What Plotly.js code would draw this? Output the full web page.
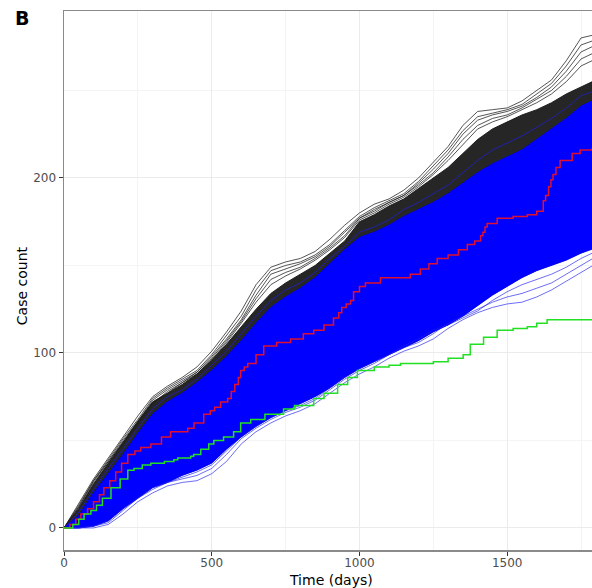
<!DOCTYPE html>
<html>
<head>
<meta charset="utf-8">
<script src="https://cdn.plot.ly/plotly-3.0.1.min.js"></script>
<style>html,body{margin:0;padding:0;background:#fff;}#chart{width:592px;height:588px;}</style>
</head>
<body>
<div id="chart"></div>
<script>
// Time grid (days) for envelopes and individual simulated trajectories
var timeGrid = [0,50,100,150,200,250,300,350,400,450,500,550,600,650,700,750,800,850,900,950,1000,1050,1100,1150,1200,1250,1300,1350,1400,1450,1500,1550,1600,1650,1700,1750,1800];

// Dense band of "black" simulations: upper edge
var blackBandTop = [0,11,25,37,49,61,72,77,82,88,96,105,115,125,134,140,145,150,157,164,175,179,184,188,194,200,206,214,222,228,232,236,239,243,248,252,256];
// Outer black simulations
var black1 = [0,14,28,40,52,64,75,81,86,92,101,112,124,139,149,152,154,158,165,173,180,185,188,193,200,209,218,230,238,239,240,244,250,256,267,280,282];
var black2 = [0,12,26,38,50,61,73,79,84,89,98,108,119,133,145,148,151,155,161,169,177,182,186,190,197,205,214,225,233,236,238,241,246,252,261,272,276];
var black3 = [0,11,25,37,48,59,71,78,83,88,96,106,117,129,139,144,148,153,159,166,176,180,185,189,195,202,210,219,228,232,235,239,243,248,255,264,268];
var black4 = [0,13,27,39,51,62,74,80,85,90,99,110,121,136,147,150,152,156,162,170,178,183,187,191,198,207,216,227,235,237,239,242,248,254,264,276,279];
var black5 = [0,12,27,38,49,60,72,77,83,89,97,107,118,131,142,146,149,154,160,167,177,181,186,190,196,203,212,222,230,234,236,240,245,250,258,268,272];

// Dense band of "blue" simulations: lower and upper edges
var blueBandBottom = [0,0,1,4,11,17,23,26,30,33,37,45,52,58,63,67,71,75,80,86,91,95,99,103,107,112,116,121,127,133,138,143,147,150,153,157,160];
var blueBandTop = [0,7,20,31,42,54,65,72,77,83,90,98,107,117,126,132,137,143,151,159,166,169,173,178,182,186,191,197,203,208,212,216,222,228,234,241,245];
// Individual blue simulations at the edges
var blueLow1 = [0,0,0,2,8,15,20,24,26,27,31,38,48,55,60,64,67,71,77,83,88,92,97,101,104,108,114,119,123,126,128,129,132,136,141,146,151];
var blueLow2 = [0,0,1,3,10,17,22,26,28,30,34,42,51,57,62,66,69,73,79,85,90,94,99,103,106,111,117,121,125,129,132,134,137,140,145,150,155];
var blueLow3 = [0,0,1,4,11,17,23,26,29,32,36,44,52,58,63,67,70,74,80,86,91,95,99,104,108,113,116,120,124,130,135,139,142,145,149,154,158];
var blueHigh1 = [0,9,22,34,45,57,68,75,79,85,93,101,111,121,130,136,140,146,154,161,169,172,176,182,186,191,196,203,210,216,220,224,229,234,240,247,250];

// Red trajectory (step function)
var redDays = [0,20,40,57,80,100,120,135,155,175,195,216,240,260,294,330,361,419,440,473,495,510,530,554,566,578,590,598,610,622,650,676,720,767,810,845,880,912,930,940,955,970,980,1000,1020,1071,1139,1172,1206,1235,1263,1300,1335,1365,1390,1410,1418,1425,1432,1466,1520,1568,1600,1622,1630,1640,1648,1655,1665,1679,1720,1747,1787];
var redCases = [0,2,5,8,11,15,19,23,27,32,37,42,44,46,48,52,55,57,60,65,67,69,72,74,78,82,86,90,92,94,99,104,106,108,111,113,116,120,123,126,128,130,135,138,140,143,143,145,148,151,154,156,159,162,164,167,169,172,174,177,178,179,181,187,190,195,199,202,206,210,214,216,217];

// Green trajectory (step function)
var greenDays = [0,7,30,50,68,91,110,130,159,190,216,237,265,294,340,372,385,429,439,463,490,507,540,574,598,632,680,743,780,845,880,926,960,993,1050,1100,1139,1200,1250,1300,1351,1375,1420,1466,1520,1568,1600,1635,1787];
var greenCases = [0,0,2,5,8,10,13,17,23,28,33,34,36,37,38,39,40,41,42,45,48,50,52,55,60,62,65,68,70,74,77,82,86,90,92,93,94,94,95,97,99,105,109,113,114,115,117,119,119];

var traces = [];
function line(y, color, width, shape) {
  return {x: timeGrid, y: y, type: 'scatter', mode: 'lines',
          line: {color: color, width: width, shape: shape || 'linear'}, hoverinfo: 'skip', showlegend: false};
}
// black band
traces.push(line(blueBandBottom, 'rgba(0,0,0,0)', 0));
var bt = line(blackBandTop, 'rgba(20,20,20,0.9)', 1);
bt.fill = 'tonexty'; bt.fillcolor = 'rgba(20,20,20,0.92)';
traces.push(bt);
[black1, black2, black3, black4, black5].forEach(function (b) { traces.push(line(b, 'rgba(30,30,30,0.75)', 1)); });
// blue band
traces.push(line(blueBandBottom, 'rgba(0,0,255,0.7)', 1));
var bl = line(blueBandTop, 'rgba(0,0,255,1)', 1);
bl.fill = 'tonexty'; bl.fillcolor = '#0000ff';
traces.push(bl);
[blueLow1, blueLow2, blueLow3, blueHigh1].forEach(function (b) { traces.push(line(b, 'rgba(30,30,240,0.65)', 1)); });
// red and green
traces.push({x: redDays, y: redCases, type: 'scatter', mode: 'lines', line: {color: '#e0102e', width: 1.5, shape: 'hv'}, hoverinfo: 'skip', showlegend: false});
traces.push({x: greenDays, y: greenCases, type: 'scatter', mode: 'lines', line: {color: '#22e022', width: 1.5, shape: 'hv'}, hoverinfo: 'skip', showlegend: false});

var font = "'DejaVu Sans', sans-serif";
var layout = {
  width: 592, height: 588,
  margin: {l: 64, r: 0, t: 11, b: 38, pad: 0},
  paper_bgcolor: '#ffffff', plot_bgcolor: '#ffffff',
  showlegend: false,
  font: {family: font, size: 12, color: '#4d4d4d'},
  xaxis: {
    range: [0, 1787], tickvals: [0, 500, 1000, 1500], ticktext: ['0', '500', '1000', '1500'],
    showgrid: true, gridcolor: '#ebebeb', gridwidth: 1,
    minor: {tickvals: [250, 750, 1250, 1750], showgrid: true, gridcolor: '#f4f4f4', gridwidth: 1, ticks: ''},
    zeroline: false, showline: true, linecolor: '#8a8a8a', linewidth: 1.5, mirror: true,
    ticks: 'outside', ticklen: 4, tickcolor: '#333333', tickwidth: 1, ticklabelstandoff: -3,
    tickfont: {family: font, size: 12, color: '#4d4d4d'}
  },
  yaxis: {
    range: [-12.6, 295.4], tickvals: [0, 100, 200], ticktext: ['0', '100', '200'],
    showgrid: true, gridcolor: '#ebebeb', gridwidth: 1,
    minor: {tickvals: [50, 150, 250], showgrid: true, gridcolor: '#f4f4f4', gridwidth: 1, ticks: ''},
    zeroline: false, showline: true, linecolor: '#8a8a8a', linewidth: 1.5, mirror: false,
    ticks: 'outside', ticklen: 4, tickcolor: '#333333', tickwidth: 1,
    tickfont: {family: font, size: 12, color: '#4d4d4d'}
  },
  annotations: [
    {text: '<b>B</b>', xref: 'paper', yref: 'paper', x: -0.097, y: 1.012, xanchor: 'left', yanchor: 'top',
     showarrow: false, font: {family: font, size: 19, color: '#000000'}},
    {text: 'Case count', xref: 'paper', yref: 'paper', x: -0.079, y: 0.49, xanchor: 'center', yanchor: 'middle',
     textangle: -90, showarrow: false, font: {family: font, size: 14, color: '#000000'}},
    {text: 'Time (days)', xref: 'paper', yref: 'paper', x: 0.506, y: -0.056, xanchor: 'center', yanchor: 'middle',
     showarrow: false, font: {family: font, size: 14, color: '#000000'}}
  ]
};
Plotly.newPlot('chart', traces, layout, {staticPlot: true, displayModeBar: false});
</script>
</body>
</html>
